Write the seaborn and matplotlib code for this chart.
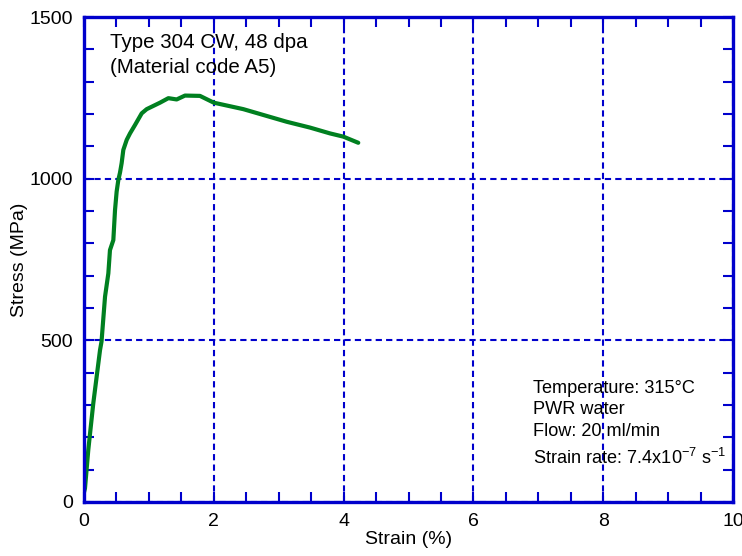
import matplotlib
matplotlib.use("Agg")
import matplotlib.pyplot as plt
import seaborn as sns
import pandas as pd
from matplotlib.ticker import MultipleLocator

strain = [0.0, 0.015, 0.066, 0.143, 0.247, 0.27, 0.324, 0.375, 0.4, 0.452, 0.478,
          0.503, 0.529, 0.555, 0.58, 0.606, 0.658, 0.709, 0.786, 0.889, 0.966,
          1.171, 1.3, 1.428, 1.556, 1.787, 2.0, 2.455, 2.763, 3.123, 3.482, 3.79,
          3.996, 4.226]
stress = [30, 42, 161, 305, 470, 496, 635, 707, 779, 810, 903,
          960, 996, 1019, 1048, 1089, 1120, 1140, 1166, 1202, 1215,
          1235, 1249, 1245, 1257, 1256, 1235, 1215, 1197, 1176, 1158, 1140,
          1130, 1111]

df = pd.DataFrame({"strain": strain, "stress": stress})

sns.set_theme(style="white")
plt.rcParams['font.family'] = ['Liberation Sans', 'DejaVu Sans']
plt.rcParams['text.color'] = 'black'
plt.rcParams['axes.labelcolor'] = 'black'

W, H = 742, 556
blue = "#0000CC"
fig = plt.figure(figsize=(W / 100, H / 100), dpi=100)
ax = fig.add_axes([84 / W, 1 - 502 / H, (733 - 84) / W, (502 - 17) / H])

sns.lineplot(data=df, x="strain", y="stress", ax=ax, color="#008020",
             linewidth=3, sort=False, estimator=None)

ax.set_xlim(0, 10)
ax.set_ylim(0, 1500)
ax.xaxis.set_major_locator(MultipleLocator(2))
ax.xaxis.set_minor_locator(MultipleLocator(0.5))
ax.yaxis.set_major_locator(MultipleLocator(500))
ax.yaxis.set_minor_locator(MultipleLocator(100))

ax.grid(True, which="major", color=blue, linestyle=(0, (3, 2)), linewidth=1.5)
for s in ax.spines.values():
    s.set_color(blue)
    s.set_linewidth(2.4)

ax.tick_params(which="both", direction="in", top=True, right=True,
               bottom=True, left=True,
               color=blue, width=1.5, labelsize=14, labelcolor="black")
ax.tick_params(which="major", length=7, pad=8)
ax.tick_params(which="minor", length=7)

ax.set_xlabel("Strain (%)", fontsize=14, labelpad=1)
ax.set_ylabel("Stress (MPa)", fontsize=14, labelpad=1)

fig.text(110 / W, 1 - 55 / H, "Type 304 CW, 48 dpa\n(Material code A5)",
         fontsize=14.8, va="center", ha="left", linespacing=1.4)
fig.text(533 / W, 1 - 410 / H, "Temperature: 315°C\nPWR water\nFlow: 20 ml/min",
         fontsize=13.1, va="center", ha="left", linespacing=1.32)
fig.text(533 / W, 1 - 458 / H,
         r"Strain rate: 7.4x10$^{\mathregular{-7}}$ s$^{\mathregular{-1}}$",
         fontsize=13.1, va="center", ha="left")

fig.savefig("out.png", dpi=100)
